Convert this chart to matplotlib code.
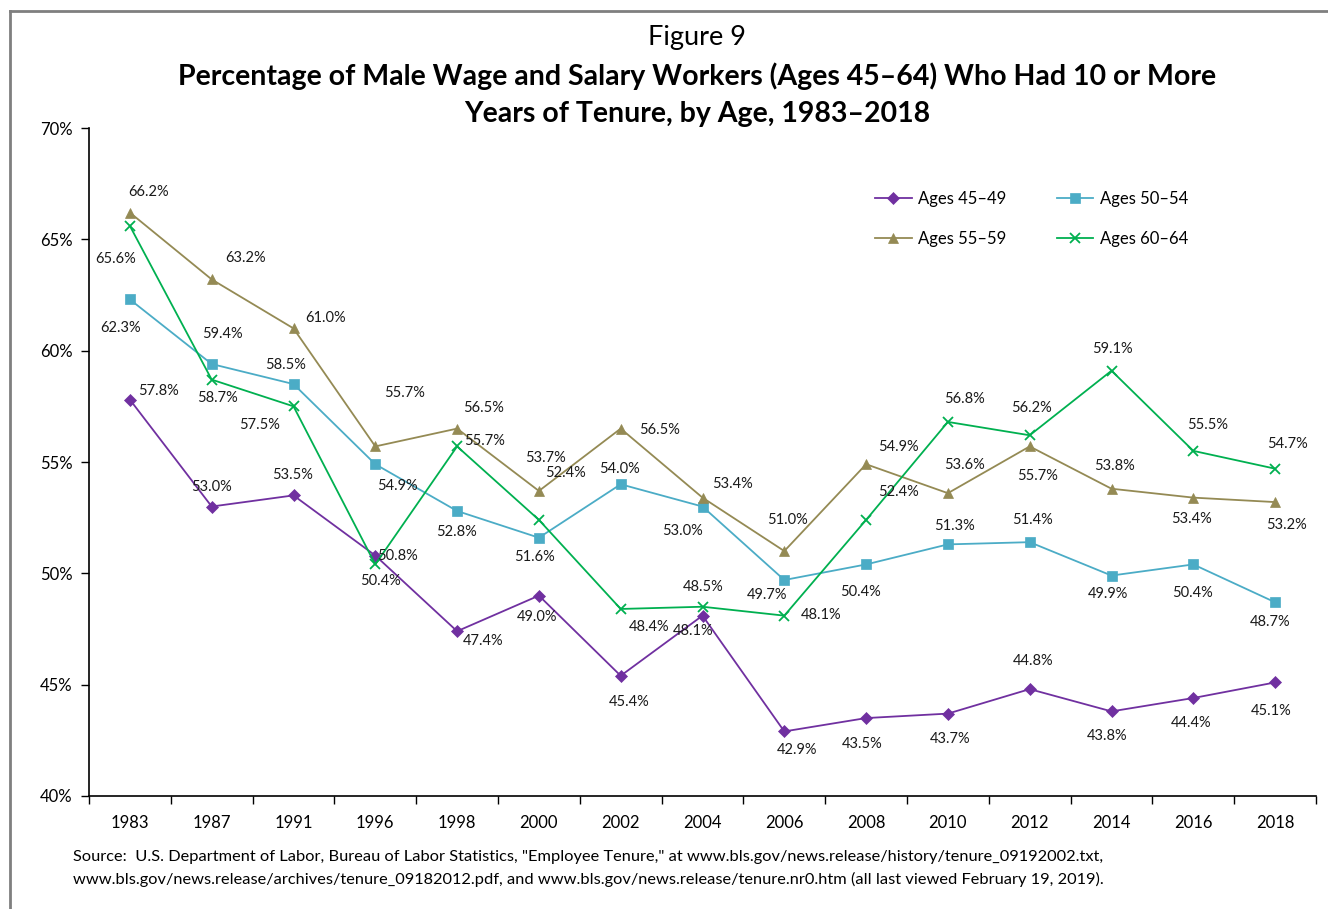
import matplotlib.pyplot as plt
import numpy as np
from matplotlib.lines import Line2D
from matplotlib.ticker import FixedLocator, FuncFormatter

plt.rcParams['font.family'] = ['Lato', 'DejaVu Sans']

# data
years = ['1983', '1987', '1991', '1996', '1998', '2000', '2002', '2004',
         '2006', '2008', '2010', '2012', '2014', '2016', '2018']
ages_45_49 = [57.8, 53.0, 53.5, 50.8, 47.4, 49.0, 45.4, 48.1, 42.9, 43.5, 43.7, 44.8, 43.8, 44.4, 45.1]
ages_50_54 = [62.3, 59.4, 58.5, 54.9, 52.8, 51.6, 54.0, 53.0, 49.7, 50.4, 51.3, 51.4, 49.9, 50.4, 48.7]
ages_55_59 = [66.2, 63.2, 61.0, 55.7, 56.5, 53.7, 56.5, 53.4, 51.0, 54.9, 53.6, 55.7, 53.8, 53.4, 53.2]
ages_60_64 = [65.6, 58.7, 57.5, 50.4, 55.7, 52.4, 48.4, 48.5, 48.1, 52.4, 56.8, 56.2, 59.1, 55.5, 54.7]

# label offsets in pixels (dx right, dy up), one per point
off_45_49 = [(29, 9), (0, 20), (-1, 20), (22, 0), (26, -10), (-2, -21), (8, -26), (-9, -15),
             (13, -19), (-4, -26), (2, -25), (3, 28), (-4, -25), (-2, -25), (-4, -29)]
off_50_54 = [(-9, -29), (11, 30), (-8, 19), (22, -22), (-1, -21), (-4, -19), (-1, 15), (-20, -24),
             (-17, -15), (-6, -28), (7, 18), (3, 22), (-4, -18), (-1, -29), (-5, -20)]
off_55_59 = [(19, 21), (34, 21), (32, 10), (29, 53), (26, 21), (7, 33), (39, -1), (30, 14),
             (3, 31), (32, 17), (17, 28), (8, -30), (3, 23), (-2, -21), (11, -23)]
off_60_64 = [(-14, -33), (6, -18), (-34, -19), (5, -17), (27, 5), (27, 47), (28, -18), (1, 20),
             (37, 1), (32, 28), (17, 23), (2, 27), (1, 22), (14, 26), (12, 25)]

series = [
    ('Ages 45\u201349', ages_45_49, off_45_49, '#7030A0', 'D', 6),
    ('Ages 50\u201354', ages_50_54, off_50_54, '#4BACC6', 's', 6.5),
    ('Ages 55\u201359', ages_55_59, off_55_59, '#948A54', '^', 7),
    ('Ages 60\u201364', ages_60_64, off_60_64, '#00B050', 'x', 7.5),
]

fig = plt.figure(figsize=(13.28, 9.09), dpi=100)
ax = fig.add_axes([89/1328, 113/909, (1316-89)/1328, (796-128)/909])

x = np.arange(len(years))
handles = []
for name, vals, offs, col, mk, ms in series:
    h, = ax.plot(x, vals, color=col, lw=1.3, marker=mk, markersize=ms,
                 markeredgewidth=1.3 if mk == 'x' else 0.5, label=name)
    handles.append(h)
    for xi, v, (dx, dy) in zip(x, vals, offs):
        ax.annotate('%.1f%%' % v, (xi, v), xytext=(dx, dy), textcoords='offset pixels',
                    ha='center', va='center', fontsize=10.5, color='#1a1a1a')

ax.set_xlim(-0.5, len(years) - 0.5)
ax.set_ylim(40, 70)
ax.set_xticks(x)
ax.set_xticklabels(years, fontsize=12)
ax.tick_params(axis='x', which='major', length=0, pad=14)
ax.xaxis.set_minor_locator(FixedLocator(np.arange(-0.5, len(years), 1)))
ax.tick_params(axis='x', which='minor', length=6, width=1, direction='out')
ax.set_yticks(np.arange(40, 71, 5))
ax.yaxis.set_major_formatter(FuncFormatter(lambda v, p: '%d%%' % v))
ax.tick_params(axis='y', length=6, width=1, labelsize=12, pad=6)
ax.spines['top'].set_visible(False)
ax.spines['right'].set_visible(False)
ax.spines['left'].set_linewidth(1.2)
ax.spines['bottom'].set_linewidth(1.2)

# legend, two columns, filled row by row like the original
order = [0, 2, 1, 3]
ax.legend([handles[i] for i in order], [series[i][0] for i in order],
          loc='upper left', bbox_to_anchor=(860/1328, (909-176)/909), bbox_transform=fig.transFigure,
          ncol=2, frameon=False, fontsize=12, handlelength=2.2, columnspacing=3.0,
          labelspacing=1.45, handletextpad=0.4)

# titles
fig.text(697/1328, 1 - 38/909, 'Figure 9', ha='center', va='center', fontsize=19.5)
fig.text(697/1328, 1 - 76/909,
         'Percentage of Male Wage and Salary Workers (Ages 45\u201364) Who Had 10 or More',
         ha='center', va='center', fontsize=20.5, fontweight='bold')
fig.text(697/1328, 1 - 114/909, 'Years of Tenure, by Age, 1983\u20132018',
         ha='center', va='center', fontsize=20.5, fontweight='bold')

# source note
fig.text(73/1328, 1 - 857/909,
         'Source:  U.S. Department of Labor, Bureau of Labor Statistics, "Employee Tenure," at '
         'www.bls.gov/news.release/history/tenure_09192002.txt,',
         ha='left', va='center', fontsize=11.8)
fig.text(73/1328, 1 - 879/909,
         'www.bls.gov/news.release/archives/tenure_09182012.pdf, and www.bls.gov/news.release/'
         'tenure.nr0.htm (all last viewed February 19, 2019).',
         ha='left', va='center', fontsize=11.8)

# frame lines at top and left of the page
fig.add_artist(Line2D([10/1328, 1], [1 - 11/909, 1 - 11/909], transform=fig.transFigure,
                      color='#7f7f7f', lw=2))
fig.add_artist(Line2D([10/1328, 10/1328], [0, 1 - 11/909], transform=fig.transFigure,
                      color='#7f7f7f', lw=2))

fig.savefig('out.png', dpi=100)
